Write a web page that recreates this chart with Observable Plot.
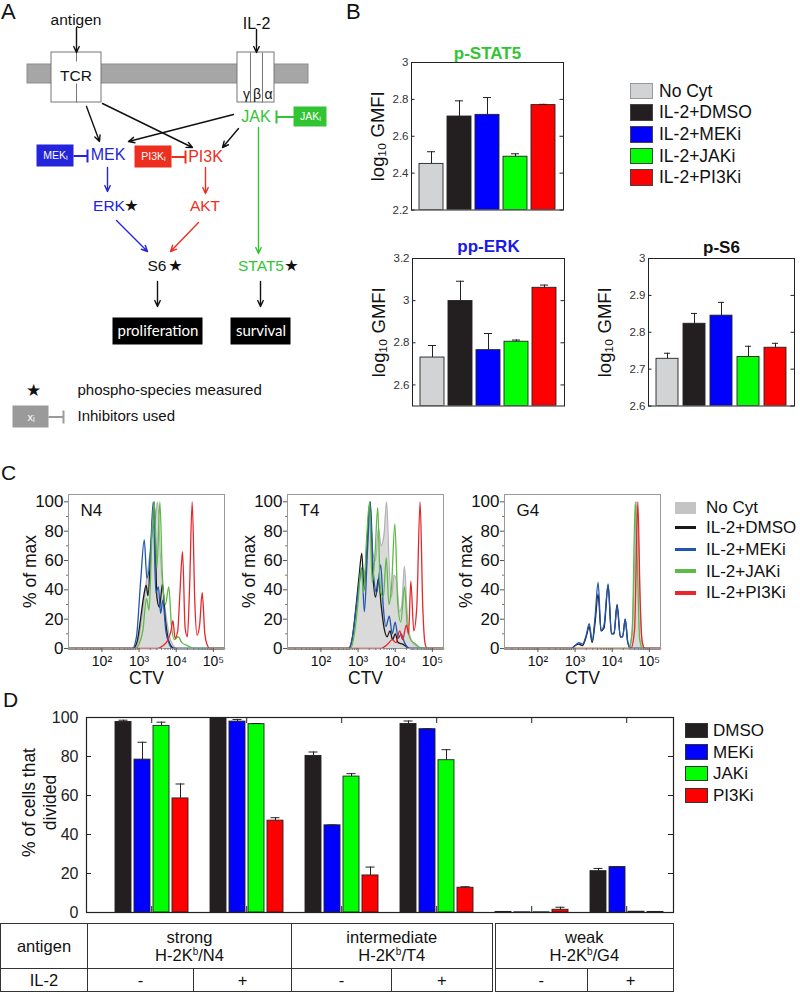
<!DOCTYPE html>
<html><head><meta charset="utf-8">
<script src="https://cdn.jsdelivr.net/npm/d3@7"></script>
<script src="https://cdn.jsdelivr.net/npm/@observablehq/plot@0.6"></script>
<style>
body{margin:0;background:#fff;font-family:"Liberation Sans",Arial,sans-serif;color:#111;}
#root{position:relative;width:800px;height:992px;overflow:hidden;background:#fff;}
#root svg{overflow:visible;max-width:none;}
sup{font-size:10px;vertical-align:6px;line-height:0;}
</style></head>
<body><div id="root"></div>
<script>
// ---------------- Panel B data ----------------
const bConds = ["No Cyt","IL-2+DMSO","IL-2+MEKi","IL-2+JAKi","IL-2+PI3Ki"];
const bColors = ["#d1d3d4","#231f20","#0000ff","#00ff00","#ff0000"];
const stat5Mean = [2.450, 2.707, 2.716, 2.489, 2.769];
const stat5Err  = [0.066, 0.085, 0.094, 0.016, 0.004];
const erkMean   = [2.730, 2.998, 2.765, 2.805, 3.061];
const erkErr    = [0.057, 0.094, 0.079, 0.008, 0.013];
const s6Mean    = [2.728, 2.823, 2.845, 2.733, 2.758];
const s6Err     = [0.015, 0.028, 0.036, 0.029, 0.012];
const stat5Ticks = [2.2, 2.4, 2.6, 2.8, 3];
const erkTicks = [2.6, 2.8, 3, 3.2];
const s6Ticks = [2.6, 2.7, 2.8, 2.9, 3];

// ---------------- Panel C data (x = log10 CTV, y = % of max) ----------------
const cSeries = ["No Cyt","IL-2+DMSO","IL-2+MEKi","IL-2+JAKi","IL-2+PI3Ki"];
const cColors = ["#c4c4c4","#1a1a1a","#1f55b0","#5dba47","#e8262b"];
const n4NoCyt = [[2.88,0],[2.98,5],[3.08,22],[3.18,42],[3.27,60],[3.36,80],[3.44,88],[3.5,100],[3.57,65],[3.65,38],[3.73,22],[3.82,8],[3.92,2],[4.0,0]];
const n4Dmso  = [[1.1,0],[2.84,0],[2.95,5],[3.05,22],[3.12,35],[3.19,43],[3.24,36],[3.32,70],[3.41,100],[3.48,35],[3.55,28],[3.63,44],[3.7,22],[3.78,7],[3.88,1],[3.95,0],[5.3,0]];
const n4Meki  = [[1.1,0],[2.82,0],[2.93,8],[3.04,45],[3.14,74],[3.21,48],[3.3,62],[3.38,100],[3.45,38],[3.52,42],[3.58,24],[3.64,33],[3.72,12],[3.8,4],[3.9,0],[5.3,0]];
const n4Jaki  = [[1.1,0],[2.9,0],[3.0,3],[3.1,12],[3.2,34],[3.27,26],[3.35,80],[3.41,100],[3.48,55],[3.56,100],[3.63,48],[3.71,30],[3.8,42],[3.87,16],[3.95,6],[4.05,8],[4.15,4],[4.3,2],[4.5,0],[5.3,0]];
const n4Pi3ki = [[1.1,0],[3.5,0],[3.65,2],[3.78,6],[3.86,12],[3.91,19],[3.97,7],[4.04,12],[4.1,38],[4.17,66],[4.24,14],[4.3,8],[4.36,42],[4.43,100],[4.5,32],[4.56,9],[4.63,16],[4.7,38],[4.77,10],[4.84,2],[4.9,0],[5.3,0]];

const t4NoCyt = [[2.75,0],[2.85,6],[2.95,25],[3.05,48],[3.12,55],[3.2,50],[3.27,75],[3.33,92],[3.4,65],[3.47,60],[3.55,82],[3.62,70],[3.7,78],[3.77,100],[3.84,55],[3.9,35],[3.97,50],[4.04,45],[4.12,25],[4.18,30],[4.25,56],[4.32,25],[4.4,8],[4.5,3],[4.65,1],[4.8,0]];
const t4Dmso  = [[1.1,0],[2.75,0],[2.85,8],[2.95,30],[3.03,50],[3.1,65],[3.16,40],[3.24,72],[3.32,100],[3.4,50],[3.47,35],[3.55,48],[3.62,30],[3.7,14],[3.78,8],[3.86,12],[3.93,6],[4.0,10],[4.08,4],[4.2,3],[4.4,0],[5.3,0]];
const t4Meki  = [[1.1,0],[2.75,0],[2.85,8],[2.95,28],[3.03,45],[3.1,55],[3.17,25],[3.25,65],[3.33,100],[3.41,52],[3.5,38],[3.61,57],[3.68,28],[3.75,15],[3.84,22],[3.92,10],[4.0,18],[4.08,7],[4.16,10],[4.25,4],[4.4,0],[5.3,0]];
const t4Jaki  = [[1.1,0],[2.8,0],[2.9,10],[3.0,32],[3.08,55],[3.15,38],[3.23,75],[3.31,100],[3.38,45],[3.45,62],[3.53,96],[3.6,40],[3.68,35],[3.76,62],[3.83,30],[3.9,42],[3.99,85],[4.07,30],[4.15,18],[4.25,42],[4.33,14],[4.42,6],[4.55,3],[4.7,0],[5.3,0]];
const t4Pi3ki = [[1.1,0],[3.6,0],[3.8,3],[3.92,6],[4.02,4],[4.12,12],[4.2,6],[4.3,16],[4.36,10],[4.42,46],[4.5,12],[4.58,28],[4.67,100],[4.74,30],[4.8,4],[4.86,0],[5.3,0]];

const g4NoCyt = [[4.45,0],[4.53,10],[4.6,55],[4.66,100],[4.72,60],[4.78,10],[4.86,0]];
const g4Dmso  = [[1.1,0],[2.9,0],[3.0,2],[3.1,3],[3.2,2],[3.3,8],[3.38,15],[3.46,4],[3.54,18],[3.62,37],[3.7,12],[3.78,14],[3.89,43],[3.98,10],[4.05,10],[4.13,30],[4.22,8],[4.28,8],[4.35,20],[4.42,4],[4.5,0],[5.3,0]];
const g4Meki  = [[1.1,0],[2.9,0],[3.0,2],[3.1,4],[3.2,3],[3.3,9],[3.38,17],[3.46,5],[3.54,22],[3.62,45],[3.7,12],[3.78,16],[3.89,44],[3.98,10],[4.05,11],[4.13,29],[4.22,8],[4.28,8],[4.35,20],[4.42,4],[4.5,0],[5.3,0]];
const g4Jaki  = [[1.1,0],[4.45,0],[4.54,12],[4.62,100],[4.68,55],[4.74,6],[4.82,0],[5.3,0]];
const g4Pi3ki = [[1.1,0],[4.5,0],[4.6,12],[4.69,100],[4.75,35],[4.81,4],[4.88,0],[5.3,0]];
const cMajorX = [2,3,4,5];
const cMajorY = [0,20,40,60,80,100];

// ---------------- Panel D data ----------------
const dTreat = ["DMSO","MEKi","JAKi","PI3Ki"];
const dColors = ["#231f20","#0000ff","#00ff00","#ff0000"];
const dGroups = ["N4 -","N4 +","T4 -","T4 +","G4 -","G4 +"];
const pctDMSO  = [97.7, 99.6, 80.3, 96.7, 0.3, 21.2];
const pctMEKi  = [78.4, 97.9, 44.7, 94.0, 0.1, 23.3];
const pctJAKi  = [95.7, 96.6, 69.7, 78.1, 0.1, 0.4];
const pctPI3Ki = [58.5, 47.1, 19.0, 12.7, 1.4, 0.3];
const errDMSO  = [0.9, 0.3, 2.0, 1.5, 0, 1.4];
const errMEKi  = [8.9, 1.1, 0.2, 0.2, 0, 0.1];
const errJAKi  = [1.9, 0.3, 1.5, 5.4, 0, 0];
const errPI3Ki = [7.4, 1.5, 4.3, 0.5, 1.3, 0];
const dTicks = [0,20,40,60,80,100];
const antigenStrength = ["strong","intermediate","weak"];
const antigenPeptide = ["N4","T4","G4"];
const il2Status = ["-","+"];

// ---------------- Panel A diagram layout ----------------
const GREEN = "#33c433", BLUE = "#2424dc", RED = "#ec2f1e";
const aRects = [
  {x1:27,x2:308,y1:64,y2:83,fill:"#a6a6a6",stroke:"#8c8c8c"},
  {x1:51,x2:101,y1:52,y2:102,fill:"#ffffff",stroke:"#777777"},
  {x1:237,x2:274,y1:52,y2:102,fill:"#ffffff",stroke:"#777777"},
  {x1:294,x2:326,y1:107,y2:126,fill:GREEN,stroke:GREEN},
  {x1:37,x2:73,y1:145,y2:166,fill:BLUE,stroke:BLUE},
  {x1:135,x2:171,y1:146,y2:167,fill:RED,stroke:RED},
  {x1:113,x2:202,y1:318,y2:344,fill:"#000000",stroke:"#000000"},
  {x1:231,x2:290,y1:318,y2:344,fill:"#000000",stroke:"#000000"},
  {x1:13,x2:48,y1:406,y2:427,fill:"#9a9a9a",stroke:"#9a9a9a"}
];
const aLines = [
  {x1:76,y1:52,x2:76,y2:61,c:"#777777"},{x1:76,y1:83,x2:76,y2:102,c:"#777777"},
  {x1:250,y1:52,x2:250,y2:102,c:"#777777"},{x1:262,y1:52,x2:262,y2:102,c:"#777777"}
];
const aInhib = [
  {x1:276,y1:116.5,x2:294,y2:116.5,c:GREEN},{x1:276,y1:110,x2:276,y2:123,c:GREEN},
  {x1:73,y1:155.5,x2:87,y2:155.5,c:BLUE},{x1:87,y1:149,x2:87,y2:162,c:BLUE},
  {x1:171,y1:156.5,x2:185,y2:156.5,c:RED},{x1:185,y1:150,x2:185,y2:163,c:RED},
  {x1:48,y1:416.5,x2:63,y2:416.5,c:"#9a9a9a"},{x1:63,y1:410,x2:63,y2:423,c:"#9a9a9a"}
];
const aArrows = [
  {x1:76,y1:27,x2:76,y2:52,c:"#111111"},
  {x1:256,y1:29,x2:256,y2:52,c:"#111111"},
  {x1:86,y1:106,x2:99,y2:141,c:"#111111"},
  {x1:102,y1:103,x2:192,y2:147,c:"#111111"},
  {x1:233,y1:114,x2:128,y2:141,c:"#111111"},
  {x1:238,y1:128,x2:222,y2:147,c:"#111111"},
  {x1:258,y1:127,x2:258,y2:253,c:GREEN},
  {x1:107,y1:167,x2:107,y2:191,c:BLUE},
  {x1:205,y1:167,x2:205,y2:193,c:RED},
  {x1:116,y1:220,x2:147,y2:251,c:BLUE},
  {x1:198,y1:222,x2:170,y2:251,c:RED},
  {x1:157,y1:281,x2:157,y2:306,c:"#111111"},
  {x1:260,y1:281,x2:260,y2:306,c:"#111111"}
];
const aLabels = [
  {t:"antigen",x:75.5,y:20,c:"#111111",s:15.5},
  {t:"IL-2",x:256,y:23,c:"#111111",s:16},
  {t:"TCR",x:75.5,y:75.5,c:"#111111",s:15.5},
  {t:"γ",x:246,y:94,c:"#111111",s:14},
  {t:"β",x:256.5,y:94,c:"#111111",s:14},
  {t:"α",x:268,y:94,c:"#111111",s:14},
  {t:"JAK",x:255.5,y:116,c:GREEN,s:16},
  {t:"MEK",x:107.5,y:154.5,c:BLUE,s:16},
  {t:"PI3K",x:205,y:156,c:RED,s:16},
  {t:"ERK",x:108.5,y:206,c:BLUE,s:15.5},
  {t:"AKT",x:204.5,y:206,c:RED,s:15.5},
  {t:"S6",x:156.5,y:266,c:"#111111",s:15.5},
  {t:"STAT5",x:260.5,y:266,c:GREEN,s:15.5}
];
const aStars = [{x:131,y:205,s:16},{x:175,y:265.5,s:16},{x:291,y:265.5,s:16},{x:33,y:390,s:17}];
const aBoxText = [
  {t:"JAKᵢ",x:310,y:116.5,s:10.5},{t:"MEKᵢ",x:55,y:155.5,s:10.5},
  {t:"PI3Kᵢ",x:153,y:156.5,s:10.5},{t:"xᵢ",x:30.5,y:416.5,s:11}
];
const aBlockText = [{t:"proliferation",x:157.5,y:331},{t:"survival",x:260.5,y:331}];
const aLegendText = [{t:"phospho-species measured",x:77,y:390},{t:"Inhibitors used",x:77,y:416}];

// ---------------- helpers ----------------
const root = document.getElementById("root");
const FONT = "'Liberation Sans', Arial, Helvetica, sans-serif";
const baseStyle = {background:"transparent", fontFamily: FONT, color:"#222", overflow:"visible"};
const fmtNum = d => String(d);
function place(node, left, top) {
  const d = document.createElement("div");
  d.style.cssText = `position:absolute;left:${left}px;top:${top}px;`;
  d.appendChild(node); root.appendChild(d); return d;
}
function label(text, x, yc, size, extra = "") {
  const d = document.createElement("div");
  d.style.cssText = `position:absolute;left:${x}px;top:${yc - size / 2}px;font-size:${size}px;line-height:1;white-space:nowrap;${extra}`;
  d.textContent = text; root.appendChild(d); return d;
}
function box(x, y, w, h, css) {
  const d = document.createElement("div");
  d.style.cssText = `position:absolute;left:${x}px;top:${y}px;width:${w}px;height:${h}px;box-sizing:border-box;${css}`;
  root.appendChild(d); return d;
}
function yLabelMark(text, dx, size, dy = 0, lineHeight = 1) {
  return Plot.text([text], {frameAnchor: "left", rotate: -90, dx, dy, fontSize: size, textAnchor: "middle", lineAnchor: "middle", lineHeight, fill: "#111"});
}

// ---------------- Panel A ----------------
label("A", 1, 11.5, 22);
const pA = Plot.plot({
  width: 330, height: 440, margin: 0,
  x: {domain: [0, 330], range: [0, 330], axis: null},
  y: {domain: [0, 440], range: [0, 440], axis: null},
  color: {type: "identity"},
  style: baseStyle,
  marks: [
    Plot.rect(aRects, {x1:"x1", x2:"x2", y1:"y1", y2:"y2", fill:"fill", stroke:"stroke", strokeWidth:1}),
    Plot.link(aLines, {x1:"x1", y1:"y1", x2:"x2", y2:"y2", stroke:"c", strokeWidth:1}),
    Plot.link(aInhib, {x1:"x1", y1:"y1", x2:"x2", y2:"y2", stroke:"c", strokeWidth:2}),
    Plot.arrow(aArrows, {x1:"x1", y1:"y1", x2:"x2", y2:"y2", stroke:"c", strokeWidth:1.4, headLength:7, headAngle:50}),
    Plot.text(aLabels, {x:"x", y:"y", text:"t", fill:"c", fontSize:d => d.s}),
    Plot.text(aStars, {x:"x", y:"y", text:() => "★", fill:"#111111", fontSize:d => d.s, fontFamily:"DejaVu Sans"}),
    Plot.text(aBoxText, {x:"x", y:"y", text:"t", fill:"#ffffff", fontSize:d => d.s}),
    Plot.text(aBlockText, {x:"x", y:"y", text:"t", fill:"#ffffff", fontSize:15, fontFamily:"Lato, 'Open Sans', sans-serif"}),
    Plot.text(aLegendText, {x:"x", y:"y", text:"t", fill:"#111111", fontSize:15, textAnchor:"start"})
  ]
});
place(pA, 0, 0);

// ---------------- Panel B ----------------
label("B", 346, 11.5, 22);
function bPlot({title, titleColor, titleDy, mean, err, domain, ticks, fw, fh, pad, po, labelDx}) {
  const data = bConds.map((c, i) => ({c, v: mean[i], hi: mean[i] + err[i]}));
  const ml = 60;
  return Plot.plot({
    width: ml + fw + 4, height: 30 + fh + 6,
    marginLeft: ml, marginRight: 4, marginTop: 30, marginBottom: 6,
    x: {domain: bConds, paddingInner: pad, paddingOuter: po, axis: null},
    y: {domain, axis: null},
    color: {domain: bConds, range: bColors},
    style: baseStyle,
    marks: [
      Plot.barY(data, {x: "c", y1: domain[0], y2: "v", fill: "c", stroke: "#222", strokeWidth: 0.9, clip: true}),
      Plot.ruleX(data, {x: "c", y1: "v", y2: "hi", stroke: "#222", strokeWidth: 1}),
      Plot.tickY(data, {x: "c", y: "hi", inset: 8, stroke: "#222", strokeWidth: 1}),
      Plot.frame({stroke: "#222", strokeWidth: 1}),
      Plot.text(ticks, {y: d => d, text: fmtNum, frameAnchor: "left", dx: -3, textAnchor: "end", lineAnchor: "middle", fontSize: 11.5, fill: "#333"}),
      Plot.tickY(ticks, {y: d => d, insetRight: fw - 3.5, stroke: "#222"}),
      Plot.tickY(ticks, {y: d => d, insetLeft: fw - 3.5, stroke: "#222"}),
      Plot.text([title], {frameAnchor: "top", dy: titleDy, lineAnchor: "middle", fontSize: 17, fontWeight: "bold", fill: titleColor}),
      yLabelMark("log₁₀ GMFI", labelDx, 18.5)
    ]
  });
}
place(bPlot({title:"p-STAT5", titleColor:"#33c433", titleDy:-9, mean:stat5Mean, err:stat5Err, domain:[2.2,3], ticks:stat5Ticks, fw:152, fh:147.5, pad:0.15, po:0.2, labelDx:-33}), 351, 32);
place(bPlot({title:"pp-ERK", titleColor:"#1a1ae6", titleDy:-11.5, mean:erkMean, err:erkErr, domain:[2.5,3.2], ticks:erkTicks, fw:152, fh:147.5, pad:0.15, po:0.2, labelDx:-33}), 352, 228);
place(bPlot({title:"p-S6", titleColor:"#111", titleDy:-10.5, mean:s6Mean, err:s6Err, domain:[2.6,3], ticks:s6Ticks, fw:146, fh:147.5, pad:0.18, po:0.27, labelDx:-43}), 588, 228);
// legend B
bConds.forEach((c, i) => {
  const top = 82.7 + i * 21.65;
  box(630, top, 23, 16.6, `background:${bColors[i]};border:1px solid ${i === 0 ? "#999" : "#444"};`);
  label(c, 659, top + 8.6, 17.5);
});

// ---------------- Panel C ----------------
label("C", 1, 472.5, 21);
const supDigits = {2:"²",3:"³",4:"⁴",5:"⁵"};
const minorX = d3.range(1, 5).flatMap(n => d3.range(2, 10).map(k => n + Math.log10(k))).filter(v => v > 1.12 && v < 5.28);
function histPlot(name, s) {
  const acc = {x: d => d[0], y: d => d[1], curve: "monotone-x"};
  const fw = 156, fh = 154;
  return Plot.plot({
    width: 68 + fw + 6, height: 14 + fh + 46,
    marginLeft: 68, marginRight: 6, marginTop: 14, marginBottom: 46,
    x: {domain: [1.1, 5.3], axis: null}, y: {domain: [0, 105], axis: null},
    style: baseStyle,
    marks: [
      Plot.areaY(s[0], {...acc, fill: "#dadada"}),
      Plot.lineY(s[0], {...acc, stroke: "#b3b3b3", strokeWidth: 1.2}),
      Plot.lineY(s[1], {...acc, stroke: cColors[1], strokeWidth: 1.3}),
      Plot.lineY(s[2], {...acc, stroke: cColors[2], strokeWidth: 1.3}),
      Plot.lineY(s[3], {...acc, stroke: cColors[3], strokeWidth: 1.3}),
      Plot.lineY(s[4], {...acc, stroke: cColors[4], strokeWidth: 1.3}),
      Plot.frame({stroke: "#9a9a9a"}),
      Plot.axisY(cMajorY, {tickSize: 4, tickFormat: () => "", label: null, stroke: "#555"}),
      Plot.axisY([10,30,50,70,90], {tickSize: 2, tickFormat: () => "", label: null, stroke: "#777"}),
      Plot.axisX(cMajorX, {tickSize: 4, tickFormat: () => "", label: null, stroke: "#555"}),
      Plot.axisX(minorX, {tickSize: 2, tickFormat: () => "", label: null, stroke: "#777"}),
      Plot.text(cMajorY, {y: d => d, text: fmtNum, frameAnchor: "left", dx: -5, textAnchor: "end", lineAnchor: "middle", fontSize: 17, fill: "#111"}),
      Plot.text(cMajorX, {x: d => d, text: d => "10" + supDigits[d], frameAnchor: "bottom", dy: 13.5, lineAnchor: "middle", fontSize: 14, fill: "#111"}),
      Plot.text([name], {frameAnchor: "top-left", dx: 12, dy: 16, fontSize: 17, textAnchor: "start", lineAnchor: "middle", fill: "#111"}),
      yLabelMark("% of max", -38.5, 17.5),
      Plot.text(["CTV"], {frameAnchor: "bottom", dy: 30, lineAnchor: "middle", fontSize: 17.5, fill: "#111"})
    ]
  });
}
place(histPlot("N4", [n4NoCyt, n4Dmso, n4Meki, n4Jaki, n4Pi3ki]), 0, 480);
place(histPlot("T4", [t4NoCyt, t4Dmso, t4Meki, t4Jaki, t4Pi3ki]), 219, 480);
place(histPlot("G4", [g4NoCyt, g4Dmso, g4Meki, g4Jaki, g4Pi3ki]), 436, 480);
// legend C
box(675, 502, 21, 11.5, `background:${cColors[0]};`);
label(cSeries[0], 706, 507.5, 17);
cSeries.slice(1).forEach((c, i) => {
  const yc = 527.7 + i * 21.7;
  box(675, yc - 1.75, 21, 3.5, `background:${cColors[i + 1]};`);
  label(c, 706, yc, 17);
});

// ---------------- Panel D ----------------
label("D", 3, 699.5, 21);
const pctAll = [pctDMSO, pctMEKi, pctJAKi, pctPI3Ki];
const errAll = [errDMSO, errMEKi, errJAKi, errPI3Ki];
const dData = dGroups.flatMap((g, gi) => dTreat.map((t, ti) => ({key: g + "|" + t, t, v: pctAll[ti][gi], e: errAll[ti][gi]})));
const dSlots = dGroups.flatMap(g => [g + "|", ...dTreat.map(t => g + "|" + t)]);
const dFW = 587, dFH = 195;
const dStep = dFW / dSlots.length;
const pD = Plot.plot({
  width: 680, height: 17 + dFH + 8,
  marginLeft: 86, marginRight: 7, marginTop: 17, marginBottom: 8,
  x: {type: "band", domain: dSlots, paddingInner: 0.16, paddingOuter: 0.08, axis: null},
  y: {domain: [0, 100], axis: null},
  color: {domain: dTreat, range: dColors},
  style: baseStyle,
  marks: [
    Plot.barY(dData, {x: "key", y1: 0, y2: "v", fill: "t", stroke: "#222", strokeWidth: 0.9}),
    Plot.ruleX(dData.filter(d => d.e > 0), {x: "key", y1: "v", y2: d => d.v + d.e, stroke: "#222", strokeWidth: 1}),
    Plot.tickY(dData.filter(d => d.e > 0), {x: "key", y: d => d.v + d.e, inset: 3.5, stroke: "#222", strokeWidth: 1}),
    Plot.frame({stroke: "#222", strokeWidth: 1.2}),
    Plot.text(dTicks, {y: d => d, text: fmtNum, frameAnchor: "left", dx: -8, textAnchor: "end", lineAnchor: "middle", fontSize: 16, fill: "#222"}),
    Plot.tickY(dTicks, {y: d => d, insetRight: dFW - 5, stroke: "#222"}),
    Plot.tickY(dTicks, {y: d => d, insetLeft: dFW - 5, stroke: "#222"}),
    Plot.tickX(dGroups, {x: g => g + "|JAKi", dx: -dStep / 2, insetBottom: dFH - 6, stroke: "#222"}),
    Plot.tickX(dGroups, {x: g => g + "|JAKi", dx: -dStep / 2, insetTop: dFH - 6, stroke: "#222"}),
    yLabelMark("% of cells that\ndivided", -47.5, 17.5, -12.5, 1.2)
  ]
});
place(pD, 0, 700);
// legend D
dTreat.forEach((t, i) => {
  const top = 722.7 + i * 21.6;
  box(684.6, top, 23, 15.6, `background:${dColors[i]};border:1px solid #333;`);
  label(t, 713, top + 7.8, 17);
});

// table
const tbl = document.createElement("table");
tbl.style.cssText = "position:absolute;left:0;top:923px;width:673px;border-collapse:collapse;table-layout:fixed;font-size:16.5px;color:#111;font-family:" + FONT + ";";
const colW = [87, 106, 98, 100, 102, 94, 86];
const cg = document.createElement("colgroup");
colW.forEach(w => { const c = document.createElement("col"); c.style.width = w + "px"; cg.appendChild(c); });
tbl.appendChild(cg);
const tdCss = "border:1.5px solid #333;text-align:center;padding:0;line-height:18px;vertical-align:middle;";
const r1 = document.createElement("tr"); r1.style.height = "45px";
const r2 = document.createElement("tr"); r2.style.height = "23px";
let td = document.createElement("td"); td.style.cssText = tdCss; td.textContent = "antigen"; r1.appendChild(td);
antigenStrength.forEach((s, i) => {
  const c = document.createElement("td"); c.colSpan = 2; c.style.cssText = tdCss + (i === 2 ? "border-left:4px double #333;" : "");
  c.innerHTML = `<div style="line-height:18px">${s}</div><div style="line-height:18px">H-2K<sup>b</sup>/${antigenPeptide[i]}</div>`; r1.appendChild(c);
});
td = document.createElement("td"); td.style.cssText = tdCss; td.textContent = "IL-2"; r2.appendChild(td);
antigenStrength.forEach((s, i) => il2Status.forEach((v, j) => {
  const c = document.createElement("td"); c.style.cssText = tdCss + (i === 2 && j === 0 ? "border-left:4px double #333;" : "");
  c.textContent = v; r2.appendChild(c);
}));
tbl.appendChild(r1); tbl.appendChild(r2);
root.appendChild(tbl);
</script>
</body></html>
